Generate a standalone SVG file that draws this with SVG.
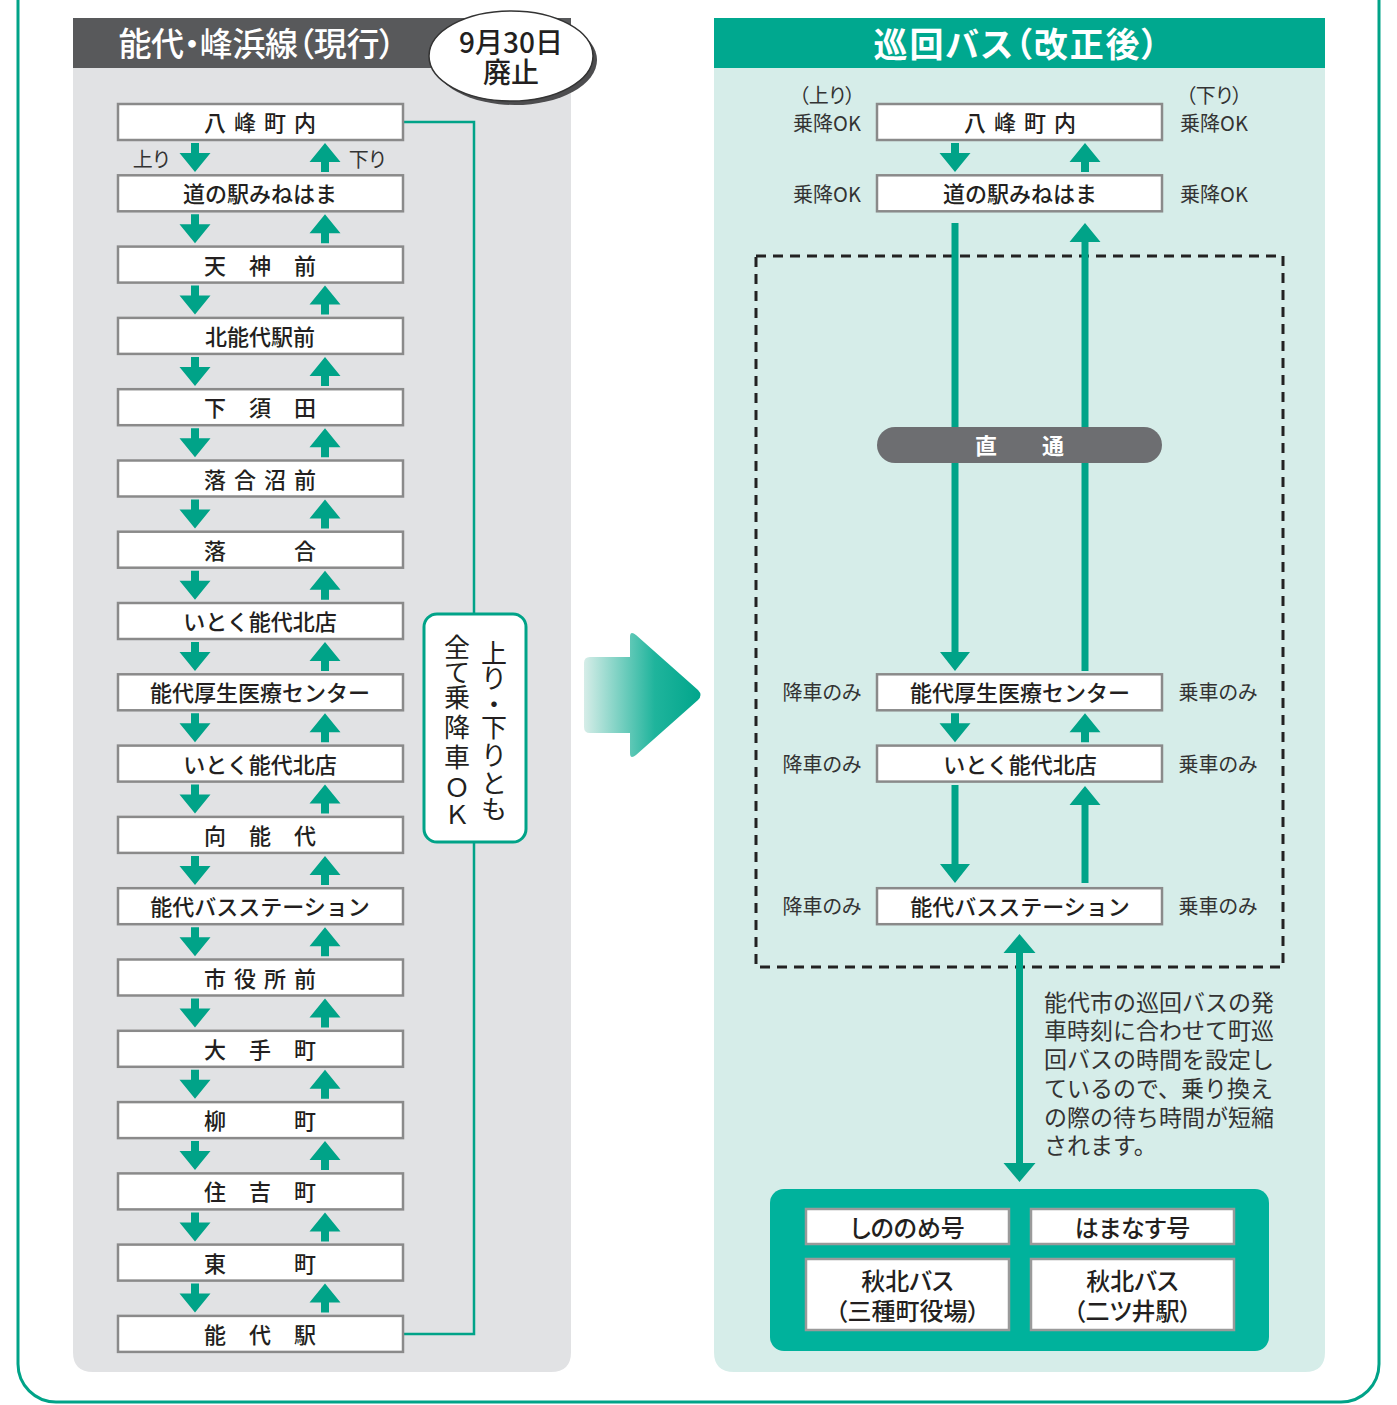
<svg xmlns="http://www.w3.org/2000/svg" width="1397" height="1405" viewBox="0 0 1397 1405">
<style>
text{font-family:"Noto Sans CJK JP","Noto Sans",sans-serif;dominant-baseline:central;}
.stop rect{fill:#fff;stroke:#8a8a8a;stroke-width:2.5;}
.stop text{font-size:22px;font-weight:500;fill:#231f20;text-anchor:middle;}
.lbl{font-size:20px;fill:#333;text-anchor:middle;font-feature-settings:"palt";}
.desc{font-size:23px;fill:#333;}
.arr{fill:#00a388;}
.line{stroke:#00a388;fill:none;}
.bus rect{fill:#fff;stroke:#9a9a9a;stroke-width:2.5;}
.bus text{font-size:24px;font-weight:500;fill:#231f20;text-anchor:middle;font-feature-settings:"palt";}
.vt{font-size:26px;fill:#231f20;text-anchor:middle;}
</style>
<defs>
<path id="dn" d="M-4,0 H4 V10 H15.5 L0,29 L-15.5,10 H-4 Z"/>
<path id="up" d="M0,0 L15.5,19 H4 V29 H-4 V19 H-15.5 Z"/>
<linearGradient id="bigArr" x1="584" y1="0" x2="702" y2="0" gradientUnits="userSpaceOnUse">
<stop offset="0" stop-color="#d6ede8"/>
<stop offset="0.6" stop-color="#1fb49c"/>
<stop offset="1" stop-color="#00a58b"/>
</linearGradient>
</defs>

<!-- outer border -->
<path d="M18,0 V1364 A38,38 0 0 0 56,1402 H1341 A38,38 0 0 0 1379,1364 V0" fill="none" stroke="#00a388" stroke-width="3"/>

<!-- left panel -->
<g id="left-panel">
<path d="M73,18 H571 V1352 Q571,1372 551,1372 H93 Q73,1372 73,1352 Z" fill="#e1e2e4"/>
<rect x="73" y="18" width="498" height="50" fill="#58595b"/>
<text x="257" y="42" font-size="33" font-weight="500" fill="#fff" text-anchor="middle" style="font-feature-settings:'palt'" textLength="277" lengthAdjust="spacing">能代・峰浜線（現行）</text>
</g>
<g id="bubble">
<ellipse cx="515" cy="60" rx="82" ry="45" fill="#4d4d4f"/>
<ellipse cx="511" cy="56" rx="82" ry="45" fill="#fff" stroke="#333" stroke-width="1.5"/>
<text x="511" y="41" font-size="28" font-weight="500" fill="#231f20" text-anchor="middle">9月30日</text>
<text x="511" y="71" font-size="28" font-weight="500" fill="#231f20" text-anchor="middle">廃止</text>
</g>

<!-- right panel -->
<g id="right-panel">
<path d="M714,18 H1325 V1352 Q1325,1372 1305,1372 H734 Q714,1372 714,1352 Z" fill="#d6ede9"/>
<rect x="714" y="18" width="611" height="50" fill="#00a88f"/>
<text x="1016" y="42" font-size="34" font-weight="700" fill="#fff" text-anchor="middle" style="font-feature-settings:'palt'" textLength="285" lengthAdjust="spacing">巡回バス（改正後）</text>
<rect x="756" y="256" width="527" height="711" fill="none" stroke="#222" stroke-width="3" stroke-dasharray="10 7"/>
</g>

<!-- big arrow -->
<g id="big-arrow">
<path d="M590,657 H630 V637 Q630,630 636,635 L698,690 Q703,695 698,700 L636,755 Q630,760 630,753 V733 H590 Q584,733 584,727 V663 Q584,657 590,657 Z" fill="url(#bigArr)"/>
</g>

<!-- connectors -->
<g id="connectors">
<path class="line" stroke-width="2.5" d="M403,122 H474 V1334 H403"/>
<g class="arr">
<use href="#dn" x="195" y="143"/><use href="#up" x="325" y="143"/>
<use href="#dn" x="195" y="214.3"/><use href="#up" x="325" y="214.3"/>
<use href="#dn" x="195" y="285.6"/><use href="#up" x="325" y="285.6"/>
<use href="#dn" x="195" y="356.9"/><use href="#up" x="325" y="356.9"/>
<use href="#dn" x="195" y="428.2"/><use href="#up" x="325" y="428.2"/>
<use href="#dn" x="195" y="499.5"/><use href="#up" x="325" y="499.5"/>
<use href="#dn" x="195" y="570.7"/><use href="#up" x="325" y="570.7"/>
<use href="#dn" x="195" y="642"/><use href="#up" x="325" y="642"/>
<use href="#dn" x="195" y="713.3"/><use href="#up" x="325" y="713.3"/>
<use href="#dn" x="195" y="784.6"/><use href="#up" x="325" y="784.6"/>
<use href="#dn" x="195" y="855.9"/><use href="#up" x="325" y="855.9"/>
<use href="#dn" x="195" y="927.2"/><use href="#up" x="325" y="927.2"/>
<use href="#dn" x="195" y="998.5"/><use href="#up" x="325" y="998.5"/>
<use href="#dn" x="195" y="1069.8"/><use href="#up" x="325" y="1069.8"/>
<use href="#dn" x="195" y="1141.1"/><use href="#up" x="325" y="1141.1"/>
<use href="#dn" x="195" y="1212.4"/><use href="#up" x="325" y="1212.4"/>
<use href="#dn" x="195" y="1283.6"/><use href="#up" x="325" y="1283.6"/>
<use href="#dn" x="955" y="143"/><use href="#up" x="1085" y="143"/>
<use href="#dn" x="955" y="713.3"/><use href="#up" x="1085" y="713.3"/>
<path d="M951.5,223 H958.5 V652 H970 L955,671 L940,652 H951.5 Z"/>
<path d="M1085,223 L1100.5,242 H1088.5 V671 H1081.5 V242 H1069.5 Z"/>
<path d="M951.5,785 H958.5 V864 H970 L955,883 L940,864 H951.5 Z"/>
<path d="M1085,786 L1100.5,805 H1088.5 V883 H1081.5 V805 H1069.5 Z"/>
<path d="M1019.5,934 L1035.5,953 H1023 V1163 H1035.5 L1019.5,1182 L1003.5,1163 H1016 V953 H1003.5 Z"/>
</g>
</g>

<!-- 直通 pill -->
<g id="direct">
<rect x="877" y="427" width="285" height="36" rx="18" fill="#6d6e71"/>
<text x="986 1053" y="444" font-size="22" font-weight="700" fill="#fff" text-anchor="middle">直通</text>
</g>

<!-- vertical label -->
<g id="all-ok-label">
<rect x="424" y="614" width="102" height="228" rx="13" fill="#fff" stroke="#00a388" stroke-width="3"/>
<text class="vt" x="494 494 494 494 494 494 494" y="651 676 702 725 753 781 807">上り・下りとも</text>
<text class="vt" x="457 457 457 457 457 457 457" y="645 670 695 725 755 785 812">全て乗降車ＯＫ</text>
</g>

<!-- left labels -->
<text class="lbl" x="151" y="158">上り</text>
<text class="lbl" x="367" y="158">下り</text>

<!-- left stops -->
<g id="L00" class="stop"><rect x="118" y="104" width="285" height="36"/><text x="215 245 275 305" y="121">八峰町内</text></g>
<g id="L01" class="stop"><rect x="118" y="175.3" width="285" height="36"/><text x="260" y="192.3">道の駅みねはま</text></g>
<g id="L02" class="stop"><rect x="118" y="246.6" width="285" height="36"/><text x="215 260 305" y="263.6">天神前</text></g>
<g id="L03" class="stop"><rect x="118" y="317.9" width="285" height="36"/><text x="260" y="334.9">北能代駅前</text></g>
<g id="L04" class="stop"><rect x="118" y="389.2" width="285" height="36"/><text x="215 260 305" y="406.2">下須田</text></g>
<g id="L05" class="stop"><rect x="118" y="460.5" width="285" height="36"/><text x="215 245 275 305" y="477.5">落合沼前</text></g>
<g id="L06" class="stop"><rect x="118" y="531.7" width="285" height="36"/><text x="215 305" y="548.7">落合</text></g>
<g id="L07" class="stop"><rect x="118" y="603" width="285" height="36"/><text x="260" y="620">いとく能代北店</text></g>
<g id="L08" class="stop"><rect x="118" y="674.3" width="285" height="36"/><text x="260" y="691.3">能代厚生医療センター</text></g>
<g id="L09" class="stop"><rect x="118" y="745.6" width="285" height="36"/><text x="260" y="762.6">いとく能代北店</text></g>
<g id="L10" class="stop"><rect x="118" y="816.9" width="285" height="36"/><text x="215 260 305" y="833.9">向能代</text></g>
<g id="L11" class="stop"><rect x="118" y="888.2" width="285" height="36"/><text x="260" y="905.2">能代バスステーション</text></g>
<g id="L12" class="stop"><rect x="118" y="959.5" width="285" height="36"/><text x="215 245 275 305" y="976.5">市役所前</text></g>
<g id="L13" class="stop"><rect x="118" y="1030.8" width="285" height="36"/><text x="215 260 305" y="1047.8">大手町</text></g>
<g id="L14" class="stop"><rect x="118" y="1102.1" width="285" height="36"/><text x="215 305" y="1119.1">柳町</text></g>
<g id="L15" class="stop"><rect x="118" y="1173.4" width="285" height="36"/><text x="215 260 305" y="1190.4">住吉町</text></g>
<g id="L16" class="stop"><rect x="118" y="1244.6" width="285" height="36"/><text x="215 305" y="1261.6">東町</text></g>
<g id="L17" class="stop"><rect x="118" y="1315.9" width="285" height="36"/><text x="215 260 305" y="1332.9">能代駅</text></g>

<!-- right stops -->
<g id="R00" class="stop"><rect x="877" y="104" width="285" height="36"/><text x="975 1005 1035 1065" y="121">八峰町内</text></g>
<g id="R01" class="stop"><rect x="877" y="175.3" width="285" height="36"/><text x="1020" y="192.3">道の駅みねはま</text></g>
<g id="R08" class="stop"><rect x="877" y="674.3" width="285" height="36"/><text x="1020" y="691.3">能代厚生医療センター</text></g>
<g id="R09" class="stop"><rect x="877" y="745.6" width="285" height="36"/><text x="1020" y="762.6">いとく能代北店</text></g>
<g id="R11" class="stop"><rect x="877" y="888.2" width="285" height="36"/><text x="1020" y="905.2">能代バスステーション</text></g>

<!-- right labels -->
<g id="right-labels">
<text class="lbl" x="827" y="94">（上り）</text>
<text class="lbl" x="827" y="122">乗降OK</text>
<text class="lbl" x="1214" y="94">（下り）</text>
<text class="lbl" x="1214" y="122">乗降OK</text>
<text class="lbl" x="827" y="193">乗降OK</text>
<text class="lbl" x="1214" y="193">乗降OK</text>
<text class="lbl" x="822" y="691">降車のみ</text>
<text class="lbl" x="1218" y="691">乗車のみ</text>
<text class="lbl" x="822" y="763">降車のみ</text>
<text class="lbl" x="1218" y="763">乗車のみ</text>
<text class="lbl" x="822" y="905">降車のみ</text>
<text class="lbl" x="1218" y="905">乗車のみ</text>
</g>

<!-- description -->
<g id="description">
<text class="desc" x="1044" y="1001">能代市の巡回バスの発</text>
<text class="desc" x="1044" y="1029">車時刻に合わせて町巡</text>
<text class="desc" x="1044" y="1058">回バスの時間を設定し</text>
<text class="desc" x="1044" y="1087">ているので、乗り換え</text>
<text class="desc" x="1044" y="1116">の際の待ち時間が短縮</text>
<text class="desc" x="1044" y="1144">されます。</text>
</g>

<!-- bus lines box -->
<g id="bus-lines">
<rect x="770" y="1189" width="499" height="162" rx="14" fill="#00b29c"/>
<g id="shinonome" class="bus"><rect x="806" y="1209" width="203" height="35"/><text x="907.5" y="1226">しののめ号</text></g>
<g id="hamanasu" class="bus"><rect x="1031" y="1209" width="203" height="35"/><text x="1132.5" y="1226">はまなす号</text></g>
<g id="shuhoku1" class="bus"><rect x="806" y="1259" width="203" height="71"/><text x="907.5" y="1279">秋北バス</text><text x="907.5" y="1309">（三種町役場）</text></g>
<g id="shuhoku2" class="bus"><rect x="1031" y="1259" width="203" height="71"/><text x="1132.5" y="1279">秋北バス</text><text x="1132.5" y="1309">（二ツ井駅）</text></g>
</g>
</svg>
